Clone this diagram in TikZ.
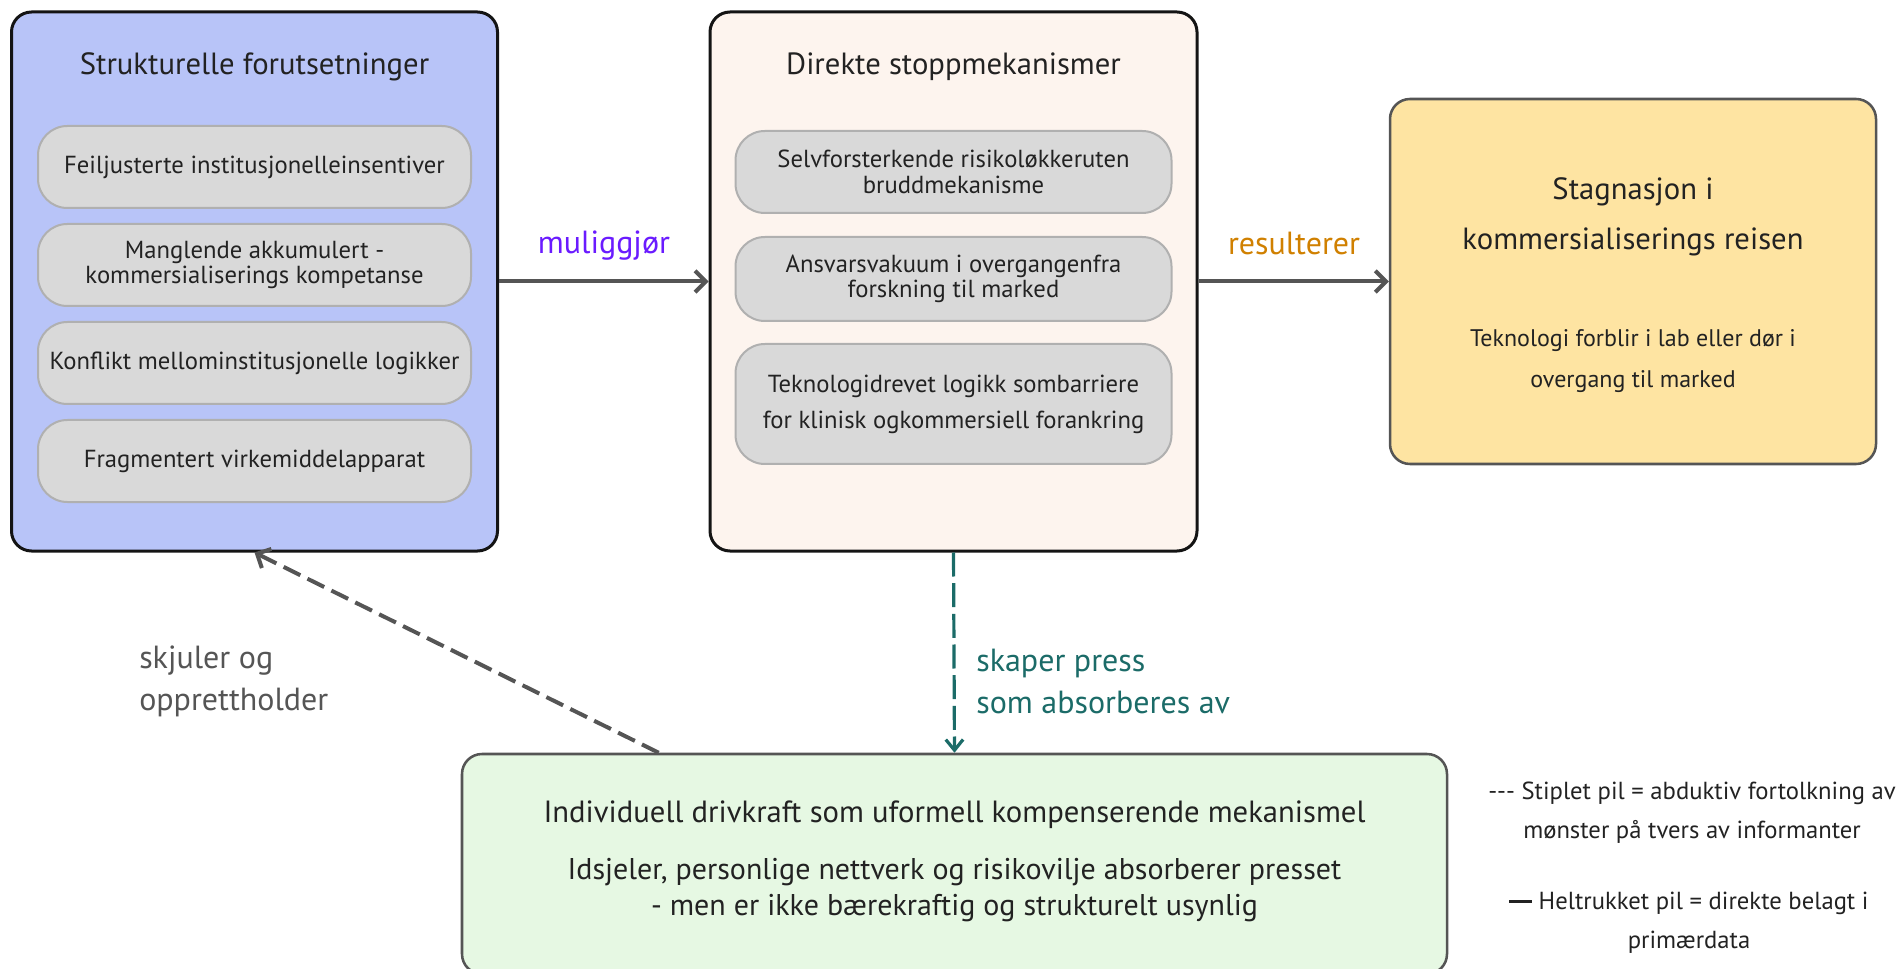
\documentclass[tikz,border=0pt]{standalone}
\usepackage{fontspec}
\setmainfont{PT Sans}
\usetikzlibrary{arrows.meta}

\definecolor{boxblue}{HTML}{B8C4F8}
\definecolor{boxpeach}{HTML}{FDF4EE}
\definecolor{boxyellow}{HTML}{FEE4A2}
\definecolor{boxgreen}{HTML}{E6F8E3}
\definecolor{pillgray}{HTML}{D9D9D9}
\definecolor{pillline}{HTML}{B0B0B0}
\definecolor{arrowgray}{HTML}{555555}
\definecolor{txtdark}{HTML}{222222}
\definecolor{labpurple}{HTML}{6A1BFF}
\definecolor{laborange}{HTML}{D08000}
\definecolor{labteal}{HTML}{1B6B68}

\newcommand\titlefont{\fontsize{23}{27}\selectfont}
\newcommand\pillfont{\fontsize{18.5}{19}\selectfont}
\newcommand\labelfont{\fontsize{24}{31.5}\selectfont}
\newcommand\legendfont{\fontsize{18.5}{29}\selectfont}

\tikzset{
  mainbox/.style={draw=black!92, line width=2.25pt, rounded corners=15pt, inner sep=0pt},
  softbox/.style={draw=arrowgray, line width=1.9pt, rounded corners=15pt, inner sep=0pt},
  pill/.style={draw=pillline, fill=pillgray, line width=1.5pt, rounded corners=22pt,
    align=center, inner sep=0pt, text=txtdark, font=\pillfont},
  boxtext/.style={align=center, inner sep=0pt, text=txtdark},
  flow/.style={draw=arrowgray, line width=3pt, -{Straight Barb[length=8pt,width=16pt]}},
  pressflow/.style={draw=labteal, line width=2.4pt, dash pattern={on 18pt off 5pt},
    -{Straight Barb[length=8pt,width=13pt]}},
  hideflow/.style={draw=arrowgray, line width=3pt, dash pattern={on 14pt off 6pt},
    -{Straight Barb[length=8pt,width=16pt]}},
}

\begin{document}
\begin{tikzpicture}[x=0.75pt,y=0.75pt,yscale=-1,xscale=1]
\useasboundingbox (0,0) rectangle (1898,969);

% Outer boxes
\node [mainbox, fill=boxblue, minimum width=364.5pt, minimum height=404.25pt] (struk) at (254.5,281.5) {};
\node [mainbox, fill=boxpeach, minimum width=365.25pt, minimum height=404.25pt] (stopp) at (953.5,281.5) {};
\node [softbox, fill=boxyellow, minimum width=364.5pt, minimum height=273.75pt] (stagn) at (1633,281.5) {};
\node [softbox, fill=boxgreen, minimum width=738.75pt, minimum height=165pt] (indiv) at (954.5,864) {};

% Left box
\node [boxtext, font=\titlefont] (strukhead) at (254.5,67) {Strukturelle forutsetninger};
\node [pill, minimum width=324.75pt, minimum height=61.5pt] (feil) at (254.5,167) {Feiljusterte institusjonelleinsentiver};
\node [pill, minimum width=324.75pt, minimum height=61.5pt] (mangl) at (254.5,265) {Manglende akkumulert -\\kommersialiserings kompetanse};
\node [pill, minimum width=324.75pt, minimum height=61.5pt] (konfl) at (254.5,363) {Konflikt mellominstitusjonelle logikker};
\node [pill, minimum width=324.75pt, minimum height=61.5pt] (fragm) at (254.5,461) {Fragmentert virkemiddelapparat};

% Middle box
\node [boxtext, font=\titlefont] (stopphead) at (953.5,67) {Direkte stoppmekanismer};
\node [pill, minimum width=327pt, minimum height=61.5pt] (selvf) at (953.5,172) {Selvforsterkende risikoløkkeruten\\bruddmekanisme};
\node [pill, minimum width=327pt, minimum height=63pt] (ansv) at (953.5,279) {Ansvarsvakuum i overgangenfra\\forskning til marked};
\node [pill, minimum width=327pt, minimum height=90pt, font=\fontsize{18.5}{27}\selectfont] (tekn) at (953.5,404) {Teknologidrevet logikk sombarriere\\for klinisk ogkommersiell forankring};

% Right box
\node [boxtext, font=\fontsize{23}{38}\selectfont] (stagnhead) at (1633,217) {Stagnasjon i\\kommersialiserings reisen};
\node [boxtext, font=\fontsize{18}{31}\selectfont] (stagnsub) at (1633,361) {Teknologi forblir i lab eller dør i\\overgang til marked};

% Bottom box
\node [boxtext, font=\titlefont] (indivhead) at (954.5,815) {Individuell drivkraft som uformell kompenserende mekanismel};
\node [boxtext, font=\fontsize{22.5}{27}\selectfont] (indivsub) at (954.5,890) {Idsjeler, personlige nettverk og risikovilje absorberer presset\\- men er ikke bærekraftig og strukturelt usynlig};

% Connectors
\draw [flow] (struk.east) -- (stopp.west);
\draw [flow] (stopp.east) -- (stagn.west);
\draw [pressflow] (stopp.south) -- (indiv.north);
\draw [hideflow] (indiv.north west) ++(198,0) -- (struk.south);

% Connector labels
\node [inner sep=0pt, text=labpurple, font=\labelfont] (lblmul) at (604,246) {muliggjør};
\node [inner sep=0pt, text=laborange, font=\labelfont] (lblres) at (1294,243) {resulterer};
\node [inner sep=0pt, anchor=west, align=left, text=labteal, font=\labelfont] (lblpress) at (976,681) {skaper press\\som absorberes av};
\node [inner sep=0pt, anchor=west, align=left, text=arrowgray, font=\labelfont] (lblhide) at (139,681) {skjuler og\\opprettholder};

% Legend
\node [boxtext, font=\legendfont] (legdash) at (1692,813) {-{}-{}- Stiplet pil = abduktiv fortolkning av\\mønster på tvers av informanter};
\node [boxtext, font=\legendfont] (legsolid) at (1689,923) {\rule[0.28em]{17pt}{2.6pt} Heltrukket pil = direkte belagt i\\primærdata};

\end{tikzpicture}
\end{document}
